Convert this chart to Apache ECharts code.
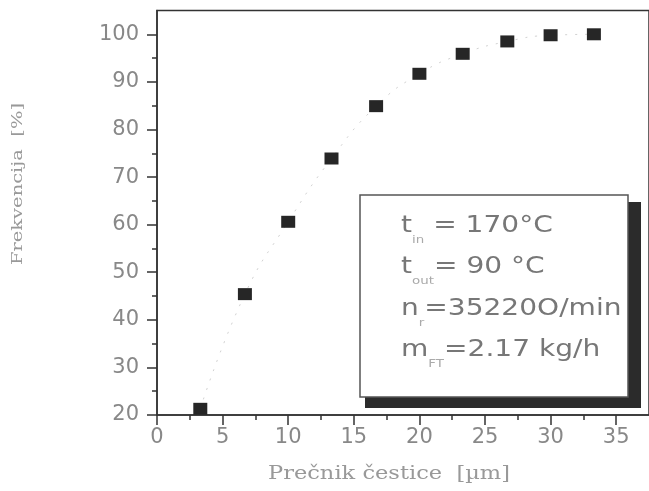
<!DOCTYPE html>
<html>
<head>
<meta charset="utf-8">
<script src="https://cdn.jsdelivr.net/npm/echarts@6/dist/echarts.min.js"></script>
<style>
  html, body { margin: 0; padding: 0; background: #fff; }
  #chart { width: 649px; height: 491px; }
</style>
</head>
<body>
<div id="chart"></div>
<script>
// Particle size distribution (cumulative frequency vs. particle diameter)
const diameters = [3.3, 6.7, 10, 13.3, 16.7, 20, 23.3, 26.7, 30, 33.3];
const frequency = [21.3, 45.4, 60.6, 73.9, 84.9, 91.7, 95.9, 98.5, 99.8, 100];

const xTicks = [0, 5, 10, 15, 20, 25, 30, 35];
const xMinorTicks = [2.5, 7.5, 12.5, 17.5, 22.5, 27.5, 32.5];
const yTicks = [20, 30, 40, 50, 60, 70, 80, 90, 100];
const yMinorTicks = [25, 35, 45, 55, 65, 75, 85, 95];

const xTitle = 'Prečnik čestice  [µm]';
const yTitle = 'Frekvencija  [%]';

// Operating conditions: [symbol, subscript, rest]
const conditions = [
  ['t', 'in', ' = 170°C'],
  ['t', 'out', '= 90 °C'],
  ['n', 'r', '=35220O/min'],
  ['m', 'FT', '=2.17 kg/h']
];

const axisColor = '#333';
const tickFont = 'DejaVu Sans';

const measureCtx = document.createElement('canvas').getContext('2d');
function stretchTo(text, font, target) {
  measureCtx.font = font;
  return target / measureCtx.measureText(text).width;
}

const points = diameters.map((d, i) => [d, frequency[i]]);

const xTitleFont = '18px "DejaVu Serif"';
const yTitleFont = '15px "DejaVu Serif"';

// Conditions box with a heavy drop shadow
const boxX = 360, boxY = 195, boxW = 268, boxH = 202;
const shadowX = 365, shadowY = 202, shadowRight = 641, shadowBottom = 408;
const lineCenters = [226, 267, 309, 350];

const conditionTexts = conditions.map((c, i) => ({
  type: 'text',
  x: 401,
  y: lineCenters[i],
  scaleX: 1.22,
  z: 12,
  style: {
    text: '{b|' + c[0] + '}{s|' + c[1] + '}{b|' + c[2] + '}',
    align: 'left',
    verticalAlign: 'middle',
    rich: {
      b: { fontFamily: 'DejaVu Sans', fontSize: 23, fill: '#777', lineHeight: 40 },
      s: { fontFamily: 'DejaVu Sans', fontSize: 11, fill: '#aaa', lineHeight: 14, verticalAlign: 'bottom' }
    }
  }
}));

const chart = echarts.init(document.getElementById('chart'));
chart.setOption({
  animation: false,
  backgroundColor: '#fff',
  grid: {
    left: 157, right: -3, top: 10.5, bottom: 76,
    show: true, borderColor: axisColor, borderWidth: 1.5, backgroundColor: 'transparent'
  },
  xAxis: [
    {
      type: 'value', min: 0, max: 37.5, position: 'bottom',
      axisLine: { lineStyle: { color: axisColor, width: 1.5 } },
      axisTick: { customValues: xTicks, length: 10, lineStyle: { color: axisColor, width: 1.5 } },
      axisLabel: { customValues: xTicks, margin: 12, fontFamily: tickFont, fontSize: 21, color: '#888' },
      splitLine: { show: false }
    },
    {
      type: 'value', min: 0, max: 37.5, position: 'bottom',
      axisLine: { show: false },
      axisTick: { customValues: xMinorTicks, length: 5, lineStyle: { color: axisColor, width: 1.5 } },
      axisLabel: { show: false },
      splitLine: { show: false }
    }
  ],
  yAxis: [
    {
      type: 'value', min: 20, max: 105, position: 'left',
      axisLine: { lineStyle: { color: axisColor, width: 1.5 } },
      axisTick: { customValues: yTicks, length: 10, lineStyle: { color: axisColor, width: 1.5 } },
      axisLabel: { customValues: yTicks, margin: 18, fontFamily: tickFont, fontSize: 21, color: '#888' },
      splitLine: { show: false }
    },
    {
      type: 'value', min: 20, max: 105, position: 'left',
      axisLine: { show: false },
      axisTick: { customValues: yMinorTicks, length: 5, lineStyle: { color: axisColor, width: 1.5 } },
      axisLabel: { show: false },
      splitLine: { show: false }
    }
  ],
  series: [
    {
      type: 'line',
      data: points,
      smooth: true,
      symbol: 'none',
      lineStyle: { color: '#d2d2d2', width: 1, type: [2, 8] },
      z: 1
    },
    {
      type: 'scatter',
      data: points,
      symbol: 'rect',
      symbolSize: [14, 12],
      itemStyle: { color: '#262626', opacity: 1 },
      z: 3
    }
  ],
  graphic: [
    {
      type: 'rect',
      shape: { x: shadowX, y: shadowY, width: shadowRight - shadowX, height: shadowBottom - shadowY },
      style: { fill: '#2b2b2b' },
      z: 10
    },
    {
      type: 'rect',
      shape: { x: boxX, y: boxY, width: boxW, height: boxH },
      style: { fill: '#fff', stroke: '#555', lineWidth: 1.5 },
      z: 11
    },
    ...conditionTexts,
    {
      type: 'text',
      x: 389, y: 474,
      scaleX: stretchTo(xTitle, xTitleFont, 242),
      style: { text: xTitle, font: xTitleFont, fill: '#999', align: 'center', verticalAlign: 'middle' }
    },
    {
      type: 'text',
      x: 18, y: 184,
      rotation: Math.PI / 2,
      scaleX: stretchTo(yTitle, yTitleFont, 162),
      style: { text: yTitle, font: yTitleFont, fill: '#999', align: 'center', verticalAlign: 'middle' }
    }
  ]
});
</script>
</body>
</html>
